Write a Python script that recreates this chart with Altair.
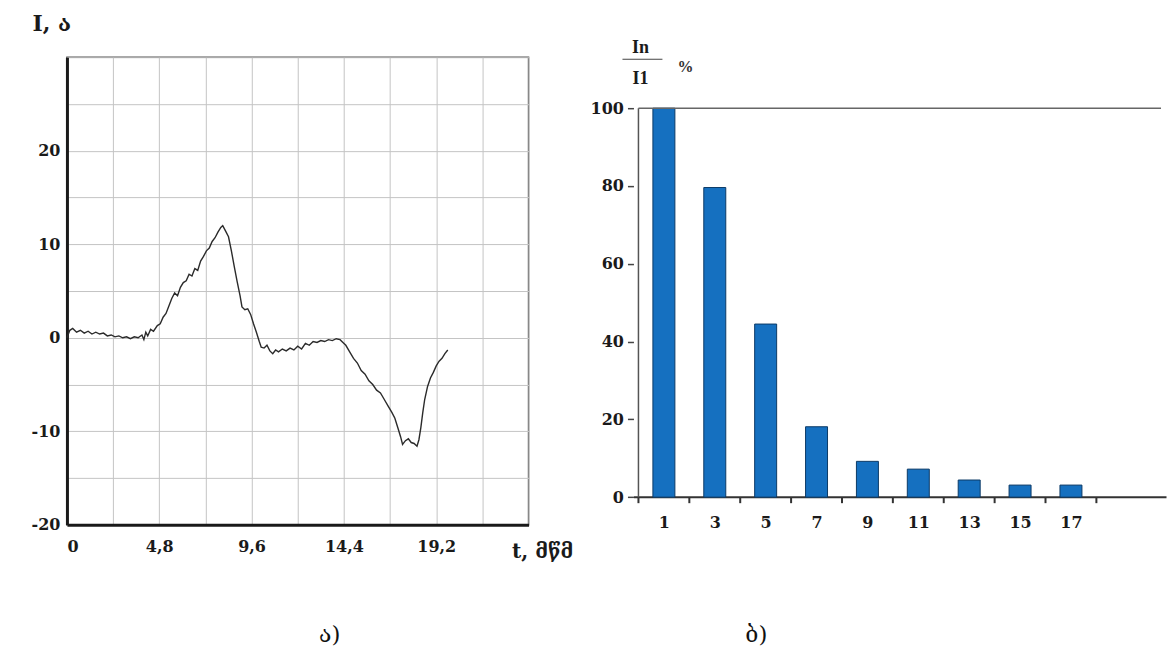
import altair as alt
import pandas as pd

# ---------------- data ----------------
t_ms = [0.0, 0.15, 0.3, 0.5, 0.7, 0.9, 1.1, 1.3, 1.5, 1.7, 1.9, 2.1, 2.3, 2.5, 2.7, 2.9,
        3.1, 3.3, 3.5, 3.7, 3.9, 4.0, 4.1, 4.2, 4.35, 4.5, 4.7, 4.85, 5.0, 5.15, 5.3,
        5.45, 5.6, 5.75, 5.9, 6.05, 6.2, 6.35, 6.5, 6.65, 6.8, 6.95, 7.1, 7.25, 7.4,
        7.55, 7.7, 7.85, 8.0, 8.1, 8.25, 8.4, 8.55, 8.7, 8.85, 9.0, 9.1, 9.25, 9.4,
        9.55, 9.7, 9.85, 10.0, 10.1, 10.25, 10.4, 10.55, 10.7, 10.85, 11.0, 11.2, 11.4,
        11.6, 11.8, 12.0, 12.2, 12.4, 12.6, 12.8, 13.0, 13.2, 13.4, 13.6, 13.8, 14.0,
        14.2, 14.35, 14.5, 14.7, 14.9, 15.1, 15.3, 15.5, 15.7, 15.9, 16.1, 16.3, 16.5,
        16.7, 16.9, 17.05, 17.2, 17.35, 17.45, 17.6, 17.75, 17.9, 18.05, 18.2, 18.3,
        18.4, 18.5, 18.6, 18.75, 18.9, 19.05, 19.2, 19.35, 19.5, 19.65, 19.8]
current_a = [0.0, 0.8, 1.0, 0.6, 0.8, 0.5, 0.7, 0.4, 0.6, 0.4, 0.5, 0.2, 0.3, 0.1, 0.2, 0.0,
             0.1, -0.1, 0.1, 0.0, 0.3, -0.2, 0.6, 0.2, 0.9, 0.7, 1.3, 1.5, 2.2, 2.6, 3.4,
             4.2, 4.8, 4.5, 5.4, 5.9, 6.1, 6.8, 6.6, 7.4, 7.2, 8.2, 8.7, 9.3, 9.6,
             10.3, 10.7, 11.3, 11.8, 12.0, 11.4, 10.8, 9.3, 7.6, 6.0, 4.5, 3.3, 3.0, 3.1,
             2.5, 1.5, 0.6, -0.4, -1.0, -1.1, -0.8, -1.4, -1.7, -1.3, -1.5, -1.2, -1.4,
             -1.1, -1.3, -0.9, -1.2, -0.6, -0.8, -0.4, -0.5, -0.3, -0.4, -0.2, -0.3, -0.1,
             -0.2, -0.5, -0.8, -1.5, -2.2, -2.7, -3.5, -3.9, -4.6, -5.0, -5.6, -5.9, -6.6,
             -7.3, -8.0, -8.6, -9.6, -10.6, -11.4, -11.0, -10.8, -11.2, -11.3, -11.6, -10.9,
             -9.6, -8.0, -6.6, -5.2, -4.3, -3.7, -3.0, -2.5, -2.2, -1.7, -1.3]

harmonic = [1, 3, 5, 7, 9, 11, 13, 15, 17]
ratio_pct = [100, 79.6, 44.5, 18.1, 9.2, 7.2, 4.4, 3.1, 3.1]

x_grid = [0, 2.4, 4.8, 7.2, 9.6, 12, 14.4, 16.8, 19.2, 21.6, 24]
y_grid = [-20, -15, -10, -5, 0, 5, 10, 15, 20, 25, 30]
bar_ticks = [0, 2, 4, 6, 8, 10, 12, 14, 16, 18]
pct_ticks = [0, 20, 40, 60, 80, 100]

left_title_y = "I, ა"
left_title_x = "t, მწმ"
caption_a = ["ა)"]
caption_b = ["ბ)"]

FONT = "DejaVu Serif, Liberation Serif"
GEO = "DejaVu Serif, DejaVu Sans"
INK = "#1a1a1a"
LBL = 16

# ---------------- left panel: waveform ----------------
LW, LH = 462, 468
wave = pd.DataFrame({"t": t_ms, "i": current_a})

x_label_expr = ("datum.value == 0 ? '0' : (indexof([4.8, 9.6, 14.4, 19.2], datum.value) >= 0 ? "
                "replace(format(datum.value, '.1f'), '.', ',') : '')")
y_label_expr = "(datum.value % 10 == 0 && datum.value < 30) ? ('' + datum.value) : ''"

line = alt.Chart(wave).mark_line(color="#2b2b2b", strokeWidth=1.4).encode(
    x=alt.X("t:Q", scale=alt.Scale(domain=[0, 24], nice=False, zero=False),
            axis=alt.Axis(values=x_grid, grid=True, gridColor="#c4c4c4", gridWidth=1,
                          ticks=False, domainColor=INK, domainWidth=3,
                          labelExpr=x_label_expr, labelOverlap=False,
                          labelFont=FONT, labelFontSize=LBL, labelFontWeight="bold",
                          labelColor=INK, labelPadding=14,
                          title=left_title_x, titleFont=GEO, titleFontSize=20,
                          titleFontWeight="bold", titleColor=INK, titleAngle=0,
                          titleX=445, titleY=27, titleAlign="left", titleBaseline="middle")),
    y=alt.Y("i:Q", scale=alt.Scale(domain=[-20, 30], nice=False, zero=False),
            axis=alt.Axis(values=y_grid, grid=True, gridColor="#c4c4c4", gridWidth=1,
                          ticks=False, domainColor=INK, domainWidth=3,
                          labelExpr=y_label_expr, labelOverlap=False,
                          labelFont=FONT, labelFontSize=LBL, labelFontWeight="bold",
                          labelColor=INK, labelPadding=7,
                          title=left_title_y, titleFont=GEO, titleFontSize=22,
                          titleFontWeight="bold", titleColor=INK, titleAngle=0,
                          titleX=-35, titleY=-34, titleAlign="left", titleBaseline="middle")),
)

cap_a = alt.Chart(pd.DataFrame({"c": caption_a})).mark_text(
    font=GEO, fontSize=23, color="#111", align="center", baseline="middle"
).encode(text="c:N", x=alt.value(263), y=alt.value(578))

left = alt.layer(line, cap_a).properties(
    width=LW, height=LH,
    view=alt.ViewBackground(stroke="#555", strokeWidth=1.5),
)

# ---------------- right panel: harmonic spectrum ----------------
RW, RH = 533, 468
X_MAX = 20.54
xs = alt.Scale(domain=[0, X_MAX], nice=False, zero=False)
ys = alt.Scale(domain=[-7.12, 113.1], nice=False, zero=False)

bars_df = pd.DataFrame({"n": harmonic, "pct": ratio_pct})
bars = alt.Chart(bars_df).mark_bar(size=22, color="#1570c0", stroke="#0c3a66", strokeWidth=1).encode(
    x=alt.X("n:Q", scale=xs,
            axis=alt.Axis(orient="bottom", values=harmonic, ticks=False, grid=False,
                          domainColor="#333", domainWidth=2, offset=-28,
                          labelFont=FONT, labelFontSize=LBL, labelFontWeight="bold",
                          labelColor=INK, labelPadding=18, labelFlush=False,
                          labelOverlap=False, title=None)),
    y=alt.Y("pct:Q", scale=ys,
            axis=alt.Axis(values=pct_ticks, domain=False, grid=False, tickSize=6,
                          tickColor="#444", tickWidth=1.5,
                          labelFont=FONT, labelFontSize=LBL, labelFontWeight="bold",
                          labelColor=INK, labelPadding=4, labelOverlap=False, title=None)),
    y2=alt.Y2(datum=0),
)

# small tick marks under the x axis line, at the even positions between bars
tick_df = pd.DataFrame({"k": bar_ticks})
ticks = alt.Chart(tick_df).mark_rule(color="#333", strokeWidth=2).encode(
    x=alt.X("k:Q", scale=xs, axis=None),
    y=alt.Y(datum=0, type="quantitative"),
    y2=alt.Y2(datum=-1.55),
)

yline = alt.Chart(pd.DataFrame({"a": [0]})).mark_rule(color="#555", strokeWidth=1.5).encode(
    x=alt.X(datum=0, type="quantitative", axis=None),
    y=alt.Y(datum=0, type="quantitative"),
    y2=alt.Y2(datum=100),
)
topline = alt.Chart(pd.DataFrame({"a": [0]})).mark_rule(color="#666", strokeWidth=1.5).encode(
    x=alt.X(datum=0, type="quantitative", axis=None), x2=alt.X2(datum=X_MAX),
    y=alt.Y(datum=100, type="quantitative"),
)

num = alt.Chart(pd.DataFrame({"s": ["In"]})).mark_text(
    font="Liberation Serif", fontSize=18, fontWeight="bold", color=INK, align="center",
    baseline="middle"
).encode(text="s:N", x=alt.value(7), y=alt.value(-9))
frac = alt.Chart(pd.DataFrame({"a": [0]})).mark_rule(color="#444", strokeWidth=1.2).encode(
    x=alt.value(-11), x2=alt.value(29), y=alt.value(2))
den = alt.Chart(pd.DataFrame({"s": ["I1"]})).mark_text(
    font="Liberation Serif", fontSize=18, fontWeight="bold", color=INK, align="center",
    baseline="middle"
).encode(text="s:N", x=alt.value(7), y=alt.value(22))
pct = alt.Chart(pd.DataFrame({"s": ["%"]})).mark_text(
    font="Liberation Serif", fontSize=16, fontWeight="bold", color="#333", align="center",
    baseline="middle"
).encode(text="s:N", x=alt.value(52), y=alt.value(10))

cap_b = alt.Chart(pd.DataFrame({"c": caption_b})).mark_text(
    font=GEO, fontSize=23, color="#111", align="center", baseline="middle"
).encode(text="c:N", x=alt.value(123), y=alt.value(578))

right = alt.layer(bars, ticks, yline, topline, num, frac, den, pct, cap_b).resolve_axis(
    x="independent"
).properties(
    width=RW, height=RH,
    view=alt.ViewBackground(stroke="transparent"),
)

chart = alt.hconcat(left, right, spacing=105, bounds="flush").properties(
    padding={"left": 30, "top": 11, "right": 0, "bottom": 5},
    background="white",
)

chart.save("out.html", embed_options={"renderer": "svg", "actions": False})
